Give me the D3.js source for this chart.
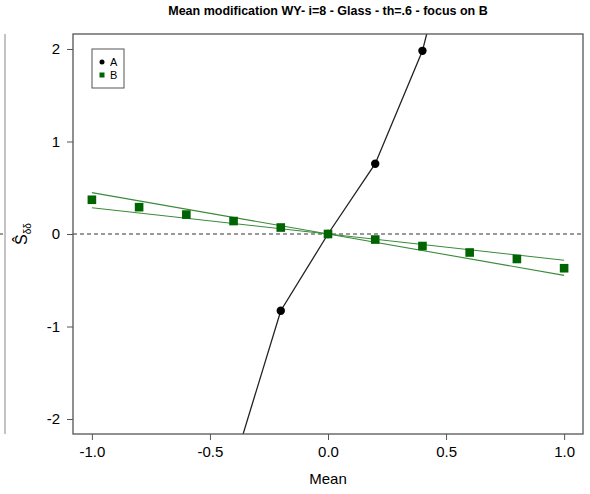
<!DOCTYPE html>
<html><head><meta charset="utf-8">
<script src="https://cdn.jsdelivr.net/npm/d3@7"></script>
<style>body{margin:0;background:#fff;} svg{display:block;font-family:"Liberation Sans",Arial,sans-serif;}</style>
</head><body>
<script>
const xTicks = [-1.0, -0.5, 0.0, 0.5, 1.0];
const yTicks = [-2, -1, 0, 1, 2];
const aX = [-0.4, -0.2, 0.0, 0.2, 0.4, 0.6];
const aY = [-2.5, -0.83, 0.0, 0.76, 1.98, 4.0];
const bX = [-1.0, -0.8, -0.6, -0.4, -0.2, 0.0, 0.2, 0.4, 0.6, 0.8, 1.0];
const bY = [0.37, 0.29, 0.21, 0.14, 0.07, 0.0, -0.06, -0.13, -0.20, -0.27, -0.37];
const bLineSlopes = [-0.447, -0.284];
const title = "Mean modification WY- i=8 - Glass - th=.6 - focus on B";

const W = 590, H = 494;
const L = 73, R = 583, T = 34, B = 434;
const svg = d3.select("body").append("svg").attr("width", W).attr("height", H);
const x = d3.scaleLinear().domain([-1.08, 1.08]).range([L, R]);
const y = d3.scaleLinear().domain([-2.162, 2.162]).range([B, T]);
const axisCol = "#555";
const fmtX = d => (d < 0 ? "-" : "") + Math.abs(d).toFixed(1);
const fmtY = d => (d < 0 ? "-" : "") + Math.abs(d);

// left neighbouring panel remnant
svg.append("line").attr("x1", 5).attr("x2", 5).attr("y1", T).attr("y2", B).attr("stroke", "#888").attr("stroke-width", 1);
svg.append("line").attr("x1", 0).attr("x2", 5).attr("y1", y(0)).attr("y2", y(0)).attr("stroke", "#333").attr("stroke-dasharray", "3,3");

// title
svg.append("text").attr("x", (L + R) / 2).attr("y", 15).attr("text-anchor", "middle")
  .attr("font-weight", "bold").attr("font-size", 12.5).text(title);

svg.append("clipPath").attr("id", "c").append("rect").attr("x", L).attr("y", T).attr("width", R - L).attr("height", B - T);
const g = svg.append("g").attr("clip-path", "url(#c)");

// zero dashed line
g.append("line").attr("x1", L).attr("x2", R).attr("y1", y(0)).attr("y2", y(0))
  .attr("stroke", "#333").attr("stroke-dasharray", "4,3").attr("stroke-width", 1);

// B reference lines
bLineSlopes.forEach(s => {
  g.append("line").attr("x1", x(-1)).attr("x2", x(1)).attr("y1", y(-s)).attr("y2", y(s))
    .attr("stroke", "#3a8a3a").attr("stroke-width", 1.1);
});

// A line
const line = d3.line().x((d, i) => x(aX[i])).y((d, i) => y(aY[i]));
g.append("path").attr("d", line(aX)).attr("fill", "none").attr("stroke", "#222").attr("stroke-width", 1.3);

// A points
g.selectAll(".pa").data(aX).enter().append("circle")
  .attr("cx", (d) => x(d)).attr("cy", (d, i) => y(aY[i])).attr("r", 4.2).attr("fill", "#000");

// B points
g.selectAll(".pb").data(bX).enter().append("rect")
  .attr("x", (d) => x(d) - 4.3).attr("y", (d, i) => y(bY[i]) - 4.3).attr("width", 8.6).attr("height", 8.6).attr("fill", "#006400");

// box
svg.append("rect").attr("x", L).attr("y", T).attr("width", R - L).attr("height", B - T)
  .attr("fill", "none").attr("stroke", axisCol).attr("stroke-width", 1.3);

// axes
const xa = svg.append("g").attr("transform", `translate(0,${B})`)
  .call(d3.axisBottom(x).tickValues(xTicks).tickFormat(fmtX).tickSize(6).tickSizeOuter(0));
xa.select(".domain").remove();
xa.selectAll("line").attr("stroke", axisCol);
xa.selectAll("text").attr("font-size", 15).attr("fill", "#000").attr("dy", "0.9em").attr("font-family", "Liberation Sans, Arial, sans-serif");

const ya = svg.append("g").attr("transform", `translate(${L},0)`)
  .call(d3.axisLeft(y).tickValues(yTicks).tickFormat(fmtY).tickSize(6).tickSizeOuter(0));
ya.select(".domain").remove();
ya.selectAll("line").attr("stroke", axisCol);
ya.selectAll("text").attr("font-size", 15).attr("fill", "#000").attr("x", -13).attr("font-family", "Liberation Sans, Arial, sans-serif");

// axis labels
svg.append("text").attr("x", x(0)).attr("y", 484).attr("text-anchor", "middle").attr("font-size", 15).text("Mean");
const yl = svg.append("text").attr("transform", `translate(27,${y(0)}) rotate(-90)`).attr("text-anchor", "middle").attr("font-size", 16);
yl.append("tspan").text("Ŝ");
yl.append("tspan").attr("font-size", 10).attr("dy", 4).text("δδ");

// legend
const lg = svg.append("g");
lg.append("rect").attr("x", 92).attr("y", 49).attr("width", 32).attr("height", 39).attr("fill", "#fff").attr("stroke", axisCol).attr("stroke-width", 1);
lg.append("circle").attr("cx", 102).attr("cy", 62).attr("r", 2.5).attr("fill", "#000");
lg.append("rect").attr("x", 99.5).attr("y", 72.5).attr("width", 5).attr("height", 5).attr("fill", "#006400");
lg.append("text").attr("x", 110).attr("y", 66).attr("font-size", 11).text("A");
lg.append("text").attr("x", 110).attr("y", 79).attr("font-size", 11).text("B");
</script>
</body></html>
